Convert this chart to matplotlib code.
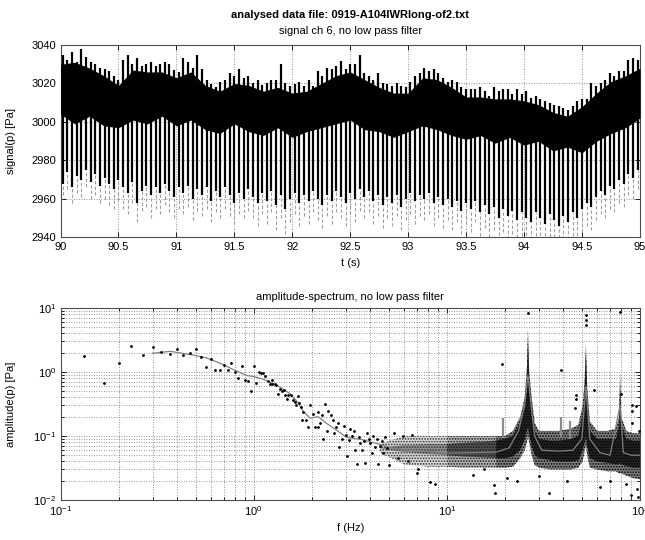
import numpy as np
import matplotlib
matplotlib.use('Agg')
import matplotlib.pyplot as plt
from matplotlib.ticker import FormatStrFormatter, LogLocator, NullFormatter

plt.rcParams['font.family'] = ['Liberation Sans', 'DejaVu Sans']
plt.rcParams['font.size'] = 8
plt.rcParams['hatch.linewidth'] = 0.8

# ---------------- top panel: signal (per pressure cycle) ----------------
# upper end of each stroke [Pa]
sig_top = [3035, 3032, 3036.5, 3031, 3038, 3034, 3031, 3030, 3028, 3027.5, 3026.5, 3024, 3022,
           3032, 3035, 3030, 3033, 3029, 3030, 3031, 3029, 3030, 3031, 3030, 3027, 3026,
           3033, 3031, 3028, 3035, 3027.5, 3022, 3019.5, 3018, 3021, 3022, 3025.5, 3024, 3027.5,
           3023, 3024, 3020.5, 3022, 3019, 3020.5, 3022, 3022, 3030, 3020.5, 3018.5, 3019.5, 3021,
           3018.5, 3022, 3018.5, 3026.5, 3024, 3028, 3027.5, 3029, 3031.5, 3027.5, 3030, 3030, 3035,
           3025.5, 3024, 3022, 3025.5, 3020.5, 3019.5, 3018.5, 3020.5, 3018.5, 3018, 3021, 3024, 3025.5,
           3028, 3026.5, 3027.5, 3025.5, 3023, 3021, 3022, 3021, 3018, 3017, 3017, 3017, 3018,
           3016, 3013.5, 3018, 3016, 3017, 3017, 3014.5, 3017, 3014.5, 3016, 3012.5, 3013.5, 3012,
           3011, 3010, 3009, 3008.5, 3007.5, 3006, 3008.5, 3011, 3012, 3012, 3020.5, 3018.5, 3020,
           3022, 3025.5, 3024, 3026.5, 3026.5, 3032, 3033, 3032]
# lower end of the black part of each stroke [Pa]
sig_low = [2968, 2974, 2966, 2972, 2970, 2975, 2969, 2973, 2967, 2971, 2968, 2965, 2970,
           2966, 2963, 2969, 2958, 2964, 2967, 2962, 2966, 2963, 2968, 2964, 2961, 2966,
           2963, 2967, 2960, 2965, 2962, 2966, 2959, 2964, 2961, 2966, 2962, 2958, 2963,
           2960, 2965, 2961, 2958, 2963, 2959, 2964, 2957, 2962, 2955, 2960, 2963, 2958,
           2962, 2959, 2964, 2960, 2957, 2962, 2959, 2964, 2961, 2958, 2963, 2960, 2965,
           2961, 2964, 2959, 2962, 2957, 2961, 2958, 2962, 2956, 2960, 2963, 2959, 2962,
           2960, 2963, 2958, 2961, 2957, 2960, 2956, 2959, 2954, 2958, 2955, 2959, 2953,
           2957, 2952, 2956, 2950, 2955, 2951, 2954, 2949, 2953, 2950, 2948, 2953, 2950,
           2947, 2952, 2949, 2946, 2951, 2948, 2953, 2950, 2955, 2958, 2956, 2961, 2964,
           2962, 2967, 2965, 2970, 2968, 2973, 2971, 2975]
# faint grey tail below each stroke [Pa]
sig_tail = [2962, 2965, 2958, 2963, 2961, 2966, 2960, 2962, 2958, 2960, 2957, 2955, 2959,
            2955, 2952, 2958, 2948, 2954, 2956, 2950, 2955, 2952, 2957, 2953, 2950, 2955,
            2952, 2956, 2949, 2954, 2951, 2955, 2948, 2953, 2950, 2955, 2951, 2947, 2952,
            2950, 2954, 2950, 2946, 2952, 2947, 2953, 2944, 2950, 2942, 2948, 2952, 2946,
            2951, 2947, 2953, 2949, 2945, 2951, 2947, 2953, 2950, 2946, 2952, 2948, 2954,
            2950, 2953, 2947, 2951, 2945, 2950, 2946, 2951, 2944, 2949, 2952, 2947, 2951,
            2949, 2952, 2946, 2950, 2945, 2949, 2944, 2948, 2942, 2947, 2943, 2948, 2941,
            2945, 2940, 2944, 2938, 2943, 2939, 2942, 2937, 2941, 2938, 2936, 2941, 2938,
            2935, 2940, 2937, 2934, 2939, 2936, 2941, 2938, 2943, 2946, 2944, 2949, 2952,
            2950, 2955, 2953, 2958, 2956, 2962, 2960, 2965]
# dense (nearly solid black) upper part of the signal, every 0.125 s
env_hi = [3030, 3031, 3028, 3024, 3019, 3027, 3026, 3026, 3023, 3026,
          3019, 3016, 3020, 3019, 3016, 3018, 3015, 3016, 3020, 3024,
          3026, 3022, 3018, 3015, 3015, 3023, 3022, 3018, 3013, 3013,
          3012, 3012, 3011, 3009, 3005, 3003, 3008, 3015, 3021, 3024, 3028]
env_lo = [3004, 2999, 3003, 2998, 2997, 3001, 2999, 3003, 2998, 3001,
          2996, 2994, 2999, 2995, 2993, 2997, 2992, 2995, 2997, 2999,
          3001, 2996, 2995, 2992, 2995, 2998, 2996, 2993, 2991, 2993,
          2989, 2992, 2988, 2990, 2985, 2987, 2984, 2990, 2994, 2997, 3002]

# ---------------- bottom panel: amplitude spectrum ----------------
dot_f = [0.133, 0.167, 0.2, 0.233, 0.267, 0.3, 0.333, 0.367, 0.4, 0.433, 0.467, 0.5, 0.533,
         0.567, 0.6, 0.633, 0.667, 0.7, 0.733, 0.767, 0.8, 0.833, 0.867, 0.9, 0.933, 0.967,
         1.0, 1.033, 1.067, 1.09, 1.12, 1.15, 1.19, 1.21, 1.24, 1.25, 1.29, 1.31, 1.34, 1.37,
         1.40, 1.44, 1.46, 1.48, 1.51, 1.56, 1.59, 1.63, 1.66, 1.70, 1.72, 1.75, 1.77, 1.81,
         1.87, 1.92, 1.96, 2.02, 2.07, 2.15, 2.16, 2.2, 2.25, 2.29, 2.34, 2.4, 2.44, 2.5,
         2.56, 2.62, 2.66, 2.72, 2.77, 2.85, 2.93, 2.99, 3.05, 3.1, 3.17, 3.23, 3.3, 3.36,
         3.43, 3.5, 3.56, 3.65, 3.71, 3.78, 3.85, 3.95, 4.0, 4.1, 4.17, 4.25, 4.35, 4.42,
         4.5, 4.6, 4.7, 4.8, 4.9, 5.0, 5.3, 5.6, 5.9, 6.3, 6.6,
         6.98, 7.1, 8.2, 8.7, 13.7, 15.5, 17.5, 17.8, 20.5, 23, 30, 34, 42, 62, 70, 85, 90, 96, 98,
         19.4, 26.2, 38.9, 46.6, 46.6, 46.0, 52.5, 52.5, 52.5, 78.9, 57.9, 80, 90.5, 90.5, 91,
         95.6, 99]
dot_a = [1.78, 0.68, 1.40, 2.55, 1.82, 2.43, 2.03, 1.91, 2.32, 1.85, 1.96, 2.26, 1.70,
         1.21, 1.60, 1.07, 1.07, 1.28, 1.07, 1.37, 1.01, 0.81, 1.24, 0.75, 0.71, 0.51,
         1.24, 0.67, 1.01, 0.95, 0.97, 0.85, 0.71, 0.66, 0.75, 0.66, 0.64, 0.62, 0.46, 0.55,
         0.50, 0.52, 0.44, 0.38, 0.43, 0.43, 0.36, 0.34, 0.30, 0.42, 0.33, 0.28, 0.18, 0.24,
         0.18, 0.137, 0.31, 0.22, 0.137, 0.137, 0.24, 0.16, 0.21, 0.09, 0.32, 0.12, 0.25, 0.21,
         0.18, 0.11, 0.14, 0.16, 0.068, 0.09, 0.145, 0.104, 0.048, 0.085, 0.13, 0.10, 0.12, 0.060,
         0.037, 0.095, 0.077, 0.06, 0.083, 0.038, 0.11, 0.09, 0.077, 0.055, 0.10, 0.068, 0.09, 0.037,
         0.07, 0.083, 0.054, 0.095, 0.064, 0.035, 0.11, 0.045, 0.1, 0.04, 0.105,
         0.0265, 0.03, 0.019, 0.018, 0.025, 0.03, 0.017, 0.0128, 0.022, 0.02, 0.024, 0.013, 0.02,
         0.016, 0.02, 0.018, 0.012, 0.015, 0.011,
         1.33, 8.45, 1.07, 0.44, 0.38, 0.27, 7.8, 6.5, 5.4, 8.5, 0.52, 0.45, 0.30, 0.25, 0.16,
         0.29, 0.12]

smooth_f = [0.3, 0.333, 0.37, 0.41, 0.48, 0.57, 0.67, 0.78, 0.92, 1.0, 1.12, 1.31, 1.54, 1.7,
            1.81, 1.96, 2.16, 2.38, 2.68, 3.03, 3.55, 4.3, 5.1, 6.4, 8.1, 10.3, 14, 18, 21,
            23.5, 25.3, 26.3, 27.3, 28.5, 31, 38, 45, 50, 52.5, 55, 62, 70, 78.9, 82, 90, 100]
smooth_a = [1.96, 2.03, 2.1, 2.0, 1.85, 1.66, 1.37, 1.1, 0.88, 0.85, 0.77, 0.63, 0.46, 0.33,
            0.24, 0.19, 0.2, 0.158, 0.124, 0.095, 0.089, 0.077, 0.066, 0.06, 0.057, 0.054, 0.055,
            0.056, 0.065, 0.12, 0.3, 0.9, 0.3, 0.1, 0.06, 0.058, 0.06, 0.09, 0.6, 0.09, 0.055,
            0.05, 0.3, 0.055, 0.05, 0.05]

# point cloud of the spectrum above ~5 Hz (outer extent and dense core)
band_f = [4.5, 6, 8, 10, 12, 14, 16, 18, 20, 22, 24, 25.3, 26, 26.3, 26.7, 27.5, 28.5, 30, 34,
          38, 44, 48, 50.5, 51.8, 52.5, 53.3, 55, 60, 68, 75, 78, 78.9, 80, 85, 92, 100]
outer_hi = [0.075, 0.1, 0.1, 0.1, 0.1, 0.1, 0.1, 0.1, 0.1, 0.12, 0.2, 0.4, 1.2, 5.0, 1.0, 0.4,
            0.16, 0.12, 0.12, 0.12, 0.13, 0.15, 0.3, 0.8, 2.8, 0.6, 0.17, 0.12, 0.12, 0.13, 0.2,
            0.97, 0.2, 0.12, 0.11, 0.11]
outer_lo = [0.055, 0.036, 0.033, 0.033, 0.032, 0.032, 0.032, 0.032, 0.032, 0.033, 0.045, 0.06,
            0.08, 0.1, 0.08, 0.05, 0.035, 0.032, 0.03, 0.03, 0.03, 0.032, 0.04, 0.06, 0.07, 0.05,
            0.032, 0.03, 0.028, 0.028, 0.026, 0.026, 0.026, 0.024, 0.022, 0.021]
core_hi = [0.066, 0.072, 0.075, 0.075, 0.078, 0.08, 0.082, 0.085, 0.09, 0.1, 0.16, 0.3, 0.8,
           3.0, 0.7, 0.3, 0.12, 0.09, 0.085, 0.085, 0.09, 0.1, 0.2, 0.5, 2.0, 0.4, 0.12, 0.09,
           0.09, 0.09, 0.14, 0.6, 0.14, 0.09, 0.085, 0.085]
core_lo = [0.064, 0.056, 0.052, 0.05, 0.048, 0.047, 0.046, 0.045, 0.045, 0.048, 0.06, 0.09, 0.12,
           0.14, 0.11, 0.07, 0.05, 0.045, 0.042, 0.04, 0.04, 0.042, 0.06, 0.08, 0.1, 0.07, 0.045,
           0.04, 0.038, 0.036, 0.036, 0.038, 0.036, 0.034, 0.032, 0.032]

# thin grey spikes in the spectrum
spike_f = [19.5, 38.8, 43.4]
spike_lo = [0.093, 0.095, 0.09]
spike_hi = [0.19, 0.2, 0.17]

# ---------------- figure ----------------
fig = plt.figure(figsize=(6.45, 5.4), dpi=100)
ax1 = fig.add_axes([0.0938, 0.5602, 0.8984, 0.3565])
ax2 = fig.add_axes([0.0938, 0.0741, 0.8984, 0.3556])

gridkw = dict(linestyle=(0, (1, 2)), color='0.45', linewidth=0.6)

# signal
t = np.linspace(90.02, 94.98, len(sig_top))
t_env = np.linspace(90, 95, len(env_hi))
ax1.vlines(t, sig_tail, sig_low, colors='0.62', linewidth=0.8, linestyles=(0, (3, 2)), zorder=2)
ax1.fill_between(t_env, env_lo, env_hi, color='k', linewidth=0, zorder=3)
ax1.vlines(t, sig_low, sig_top, colors='k', linewidth=1.6, zorder=4)
ax1.set_xlim(90, 95)
ax1.set_ylim(2940, 3040)
ax1.set_xticks(np.arange(90, 95.01, 0.5))
ax1.set_yticks(np.arange(2940, 3040.1, 20))
ax1.xaxis.set_major_formatter(FormatStrFormatter('%g'))
ax1.grid(True, **gridkw)
ax1.set_axisbelow(True)
ax1.set_xlabel('t (s)')
ax1.set_ylabel('signal(p) [Pa]')
ax1.xaxis.set_label_coords(0.5, -0.108)
ax1.yaxis.set_label_coords(-0.077, 0.5)
ax1.text(0.5, 1.157, 'analysed data file: 0919-A104IWRlong-of2.txt', transform=ax1.transAxes,
         ha='center', va='center', fontweight='bold')
ax1.text(0.5, 1.073, 'signal ch 6, no low pass filter', transform=ax1.transAxes,
         ha='center', va='center')

# spectrum: the cloud gets denser towards higher frequencies
bf = np.array(band_f)
zones = [(bf <= 10, '#d6d6d6', '#8e8e8e', '0.2'),
         ((bf >= 10) & (bf <= 18), '#b0b0b0', '#505050', '0.1'),
         (bf >= 18, '#7e7e7e', '#222222', 'k')]
for mask, c_out, c_core, c_dot in zones:
    ax2.fill_between(band_f, outer_lo, outer_hi, where=mask, facecolor=c_out,
                     edgecolor=c_dot, hatch='......', linewidth=0, zorder=2)
    ax2.fill_between(band_f, core_lo, core_hi, where=mask, facecolor=c_core,
                     edgecolor=c_dot, hatch='......', linewidth=0, zorder=3)
ax2.vlines(spike_f, spike_lo, spike_hi, colors='0.55', linewidth=1.6, zorder=4)
ax2.plot(smooth_f, smooth_a, color='0.5', linewidth=0.9, zorder=5)
ax2.plot(dot_f, dot_a, linestyle='none', marker='.', markersize=2.0, color='k', zorder=6)
ax2.set_xscale('log')
ax2.set_yscale('log')
ax2.set_xlim(0.1, 100)
ax2.set_ylim(0.01, 10)
ax2.xaxis.set_major_locator(LogLocator(base=10, numticks=10))
ax2.yaxis.set_major_locator(LogLocator(base=10, numticks=10))
ax2.xaxis.set_minor_locator(LogLocator(base=10, subs=np.arange(2, 10), numticks=20))
ax2.yaxis.set_minor_locator(LogLocator(base=10, subs=np.arange(2, 10), numticks=20))
ax2.xaxis.set_minor_formatter(NullFormatter())
ax2.yaxis.set_minor_formatter(NullFormatter())
ax2.grid(True, which='both', **gridkw)
ax2.set_axisbelow(True)
ax2.set_xlabel('f (Hz)')
ax2.set_ylabel('amplitude(p) [Pa]')
ax2.xaxis.set_label_coords(0.5, -0.12)
ax2.yaxis.set_label_coords(-0.077, 0.5)
ax2.set_title('amplitude-spectrum, no low pass filter', pad=6, fontsize=8)

for ax in (ax1, ax2):
    ax.tick_params(which='both', direction='in', top=True, right=True, width=0.6, labelsize=8,
                   pad=3)
    ax.tick_params(which='major', length=3.5)
    ax.tick_params(which='minor', length=2)
    for s in ax.spines.values():
        s.set_color('0.3')
        s.set_linewidth(0.8)

fig.savefig('out.png', dpi=100)
